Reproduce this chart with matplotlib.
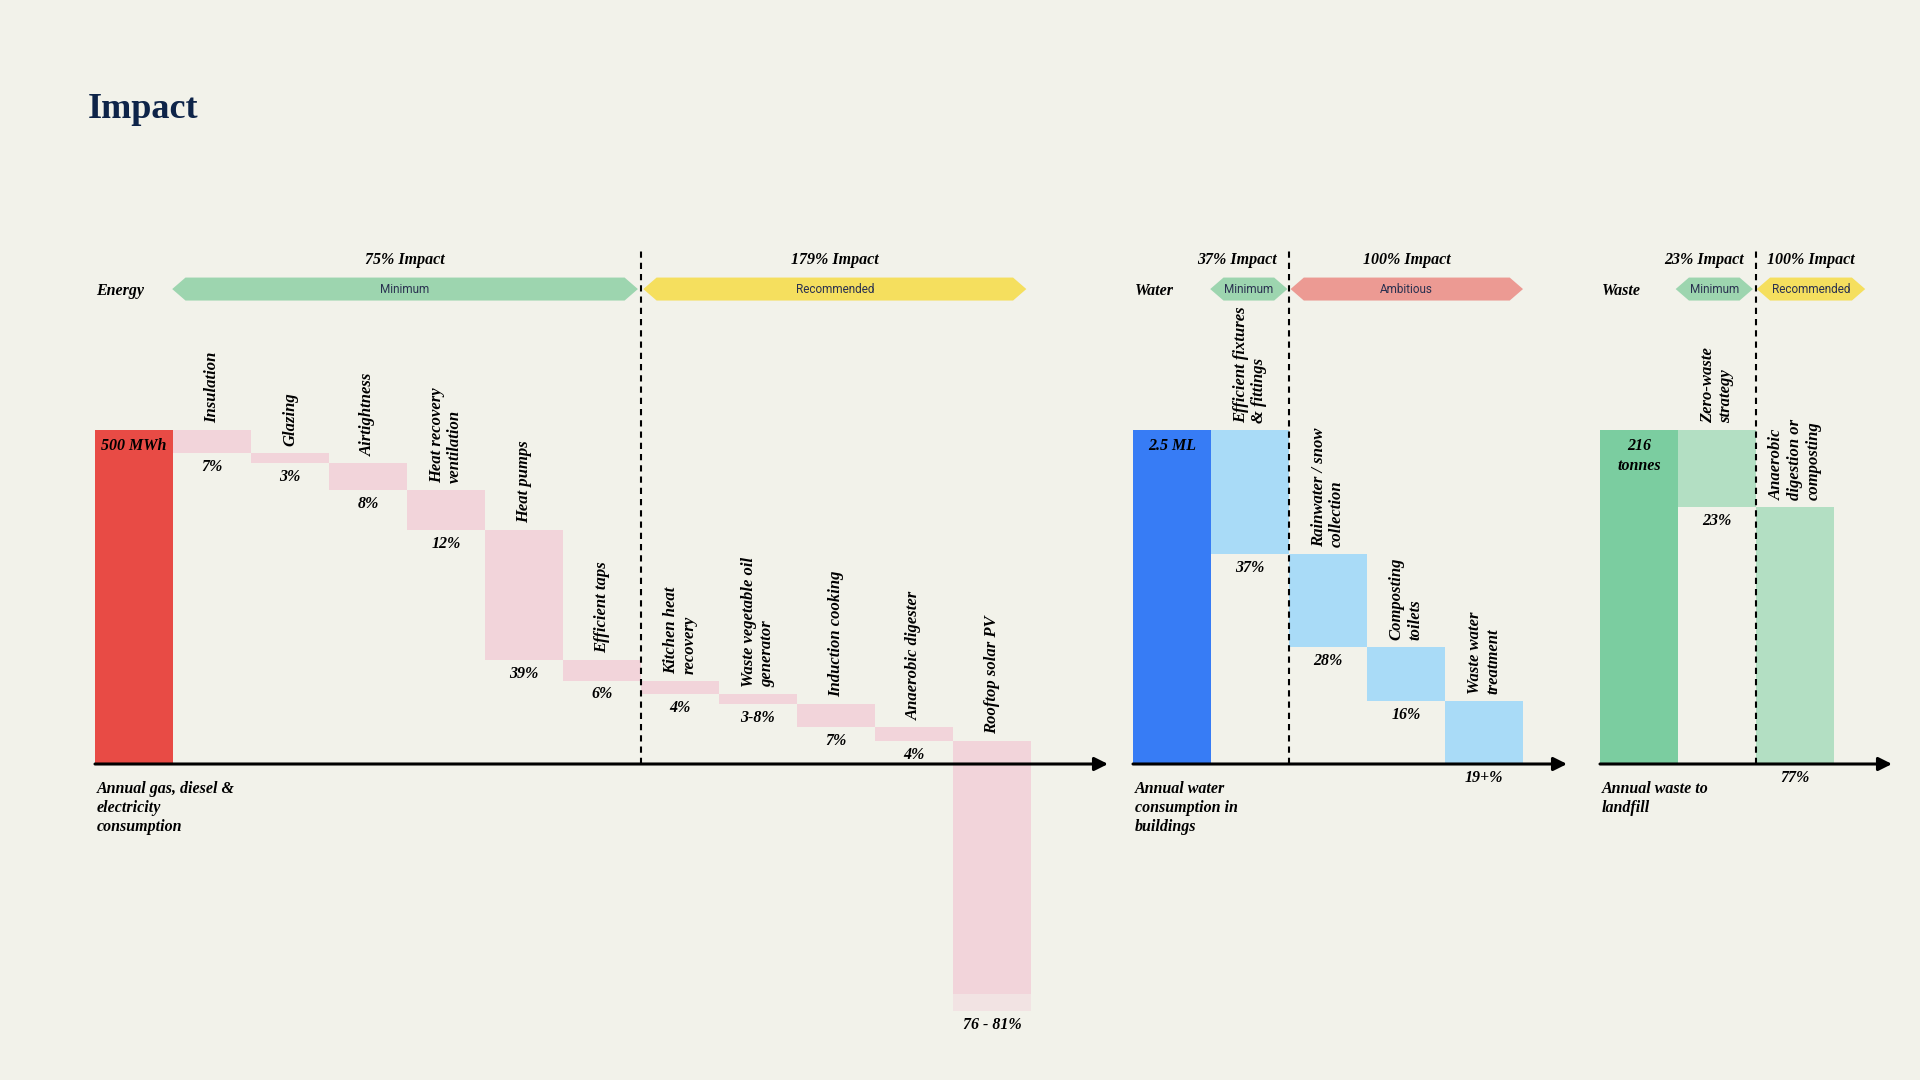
import matplotlib
matplotlib.use("Agg")
import matplotlib.pyplot as plt
from matplotlib.patches import Polygon

# ---------------- data ----------------
energy_base_label = "500 MWh"
energy_steps = ["Insulation", "Glazing", "Airtightness", "Heat recovery\nventilation",
                "Heat pumps", "Efficient taps", "Kitchen heat\nrecovery",
                "Waste vegetable oil\ngenerator", "Induction cooking",
                "Anaerobic digester", "Rooftop solar PV"]
energy_values = [7, 3, 8, 12, 39, 6, 4, 3, 7, 4, 76]
energy_upper = [None] * 10 + [81]
energy_pct_labels = ["7%", "3%", "8%", "12%", "39%", "6%", "4%", "3-8%", "7%", "4%", "76 - 81%"]
energy_tiers = ["Minimum", "Recommended"]
energy_impacts = ["75% Impact", "179% Impact"]
energy_caption = "Annual gas, diesel &\nelectricity\nconsumption"

water_base_label = "2.5 ML"
water_steps = ["Efficient fixtures\n& fittings", "Rainwater / snow\ncollection",
               "Composting\ntoilets", "Waste water\ntreatment"]
water_values = [37, 28, 16, 19]
water_pct_labels = ["37%", "28%", "16%", "19+%"]
water_tiers = ["Minimum", "Ambitious"]
water_impacts = ["37% Impact", "100% Impact"]
water_caption = "Annual water\nconsumption in\nbuildings"

waste_base_label = "216\ntonnes"
waste_steps = ["Zero-waste\nstrategy", "Anaerobic\ndigestion or\ncomposting"]
waste_values = [23, 77]
waste_pct_labels = ["23%", "77%"]
waste_tiers = ["Minimum", "Recommended"]
waste_impacts = ["23% Impact", "100% Impact"]
waste_caption = "Annual waste to\nlandfill"

# ---------------- style ----------------
BG = "#F2F2EA"
NAVY = "#0E2449"
TIER_COL = {"Minimum": "#9DD5AF", "Recommended": "#F5DF5E", "Ambitious": "#EC9A93"}
SERIF = ["Liberation Serif", "DejaVu Serif"]
SANS = ["Roboto", "Inter", "DejaVu Sans"]

W, H = 1920, 1080
SLOT_PX = 78.0
PCT_PX = 3.34
BASE_Y = 764  # px from top

fig = plt.figure(figsize=(19.2, 10.8), dpi=100, facecolor=BG)

fig.text(88 / W, 1 - 109 / H, "Impact", fontsize=26, fontweight="bold",
         family=SERIF, color=NAVY, ha="left", va="center")


def panel(left_px, arrow_px, name, base_label, base_col, step_col, steps, values,
          pct_labels, tiers, impacts, divider, tier_spans, impact_align, caption,
          upper=None, ext_col=None):
    ax = fig.add_axes([left_px / W, 0, (arrow_px - left_px) / W, 1])
    ax.set_xlim(0, (arrow_px - left_px) / SLOT_PX)
    ax.set_ylim(-(H - BASE_Y) / PCT_PX, BASE_Y / PCT_PX)
    ax.axis("off")
    ax.patch.set_alpha(0)

    # base bar
    ax.bar(0, 100, width=1, align="edge", color=base_col, linewidth=0)
    ax.annotate(base_label, xy=(0.5, 100), xytext=(0, -8), textcoords="offset pixels",
                ha="center", va="top", fontsize=11.5, fontweight="bold",
                style="italic", family=SERIF, linespacing=1.3)

    level = 100.0
    for i, (lab, v, pl) in enumerate(zip(steps, values, pct_labels)):
        x = i + 1
        bottom = level - v
        ax.bar(x, v, bottom=bottom, width=1, align="edge", color=step_col,
               linewidth=0, clip_on=False)
        low = bottom
        if upper is not None and upper[i] is not None:
            ext = upper[i] - v
            ax.bar(x, ext, bottom=bottom - ext, width=1, align="edge",
                   color=ext_col, linewidth=0, clip_on=False)
            low = bottom - ext
        ax.annotate(lab, xy=(x + 0.5, level), xytext=(0, 7), textcoords="offset pixels",
                    rotation=90, ha="center", va="bottom", multialignment="left",
                    fontsize=12, fontweight="bold", style="italic", family=SERIF,
                    linespacing=1.2)
        ax.annotate(pl, xy=(x + 0.5, low), xytext=(0, -6), textcoords="offset pixels",
                    ha="center", va="top", fontsize=11.5, fontweight="bold",
                    style="italic", family=SERIF)
        level = bottom

    # axis arrow
    xmax = ax.get_xlim()[1]
    ax.annotate("", xy=(xmax, 0), xytext=(0, 0),
                arrowprops=dict(arrowstyle="-|>", color="black", lw=2.2,
                                mutation_scale=20, shrinkA=0, shrinkB=0))

    # divider
    ax.plot([divider, divider], [0, 153.9], color="black", lw=1.5,
            linestyle=(0, (3, 2.4)), clip_on=False)

    # banners
    yc, hh = 142.2, 3.44
    d = 0.17
    for tier, imp, (x0, x1), al in zip(tiers, impacts, tier_spans, impact_align):
        poly = Polygon([(x0, yc), (x0 + d, yc + hh), (x1 - d, yc + hh), (x1, yc),
                        (x1 - d, yc - hh), (x0 + d, yc - hh)], closed=True,
                       facecolor=TIER_COL[tier], edgecolor="none", clip_on=False)
        ax.add_patch(poly)
        ax.text((x0 + x1) / 2, yc, tier, ha="center", va="center", fontsize=8.5,
                family=SANS, color="#2A3150")
        if al == "center":
            tx = (x0 + x1) / 2
        elif al == "right":
            tx = divider - 0.16
        else:
            tx = divider + 0.14
        ax.text(tx, 150.9, imp, ha=al, va="center", fontsize=11.5, fontweight="bold",
                style="italic", family=SERIF)

    ax.text(0.02, yc - 0.6, name, ha="left", va="center", fontsize=11.5,
            fontweight="bold", style="italic", family=SERIF)
    ax.text(0.02, -(781 - BASE_Y) / PCT_PX, caption, ha="left", va="top",
            fontsize=11.5, fontweight="bold", style="italic", family=SERIF,
            linespacing=1.25)
    return ax


panel(95, 1108, "Energy", energy_base_label, "#E84B45", "#F2D4DA",
      energy_steps, energy_values, energy_pct_labels, energy_tiers, energy_impacts,
      divider=7, tier_spans=[(0.99, 6.96), (7.03, 11.94)],
      impact_align=["center", "center"], caption=energy_caption,
      upper=energy_upper, ext_col="#F2E3E3")

panel(1133, 1567, "Water", water_base_label, "#377CF5", "#A9DBF7",
      water_steps, water_values, water_pct_labels, water_tiers, water_impacts,
      divider=2, tier_spans=[(0.99, 1.98), (2.02, 5.0)],
      impact_align=["right", "center"], caption=water_caption)

panel(1600, 1892, "Waste", waste_base_label, "#7BCDA0", "#B3DFC3",
      waste_steps, waste_values, waste_pct_labels, waste_tiers, waste_impacts,
      divider=2, tier_spans=[(0.97, 1.96), (2.01, 3.4)],
      impact_align=["right", "left"], caption=waste_caption)

fig.savefig("out.png", dpi=100, facecolor=BG)
